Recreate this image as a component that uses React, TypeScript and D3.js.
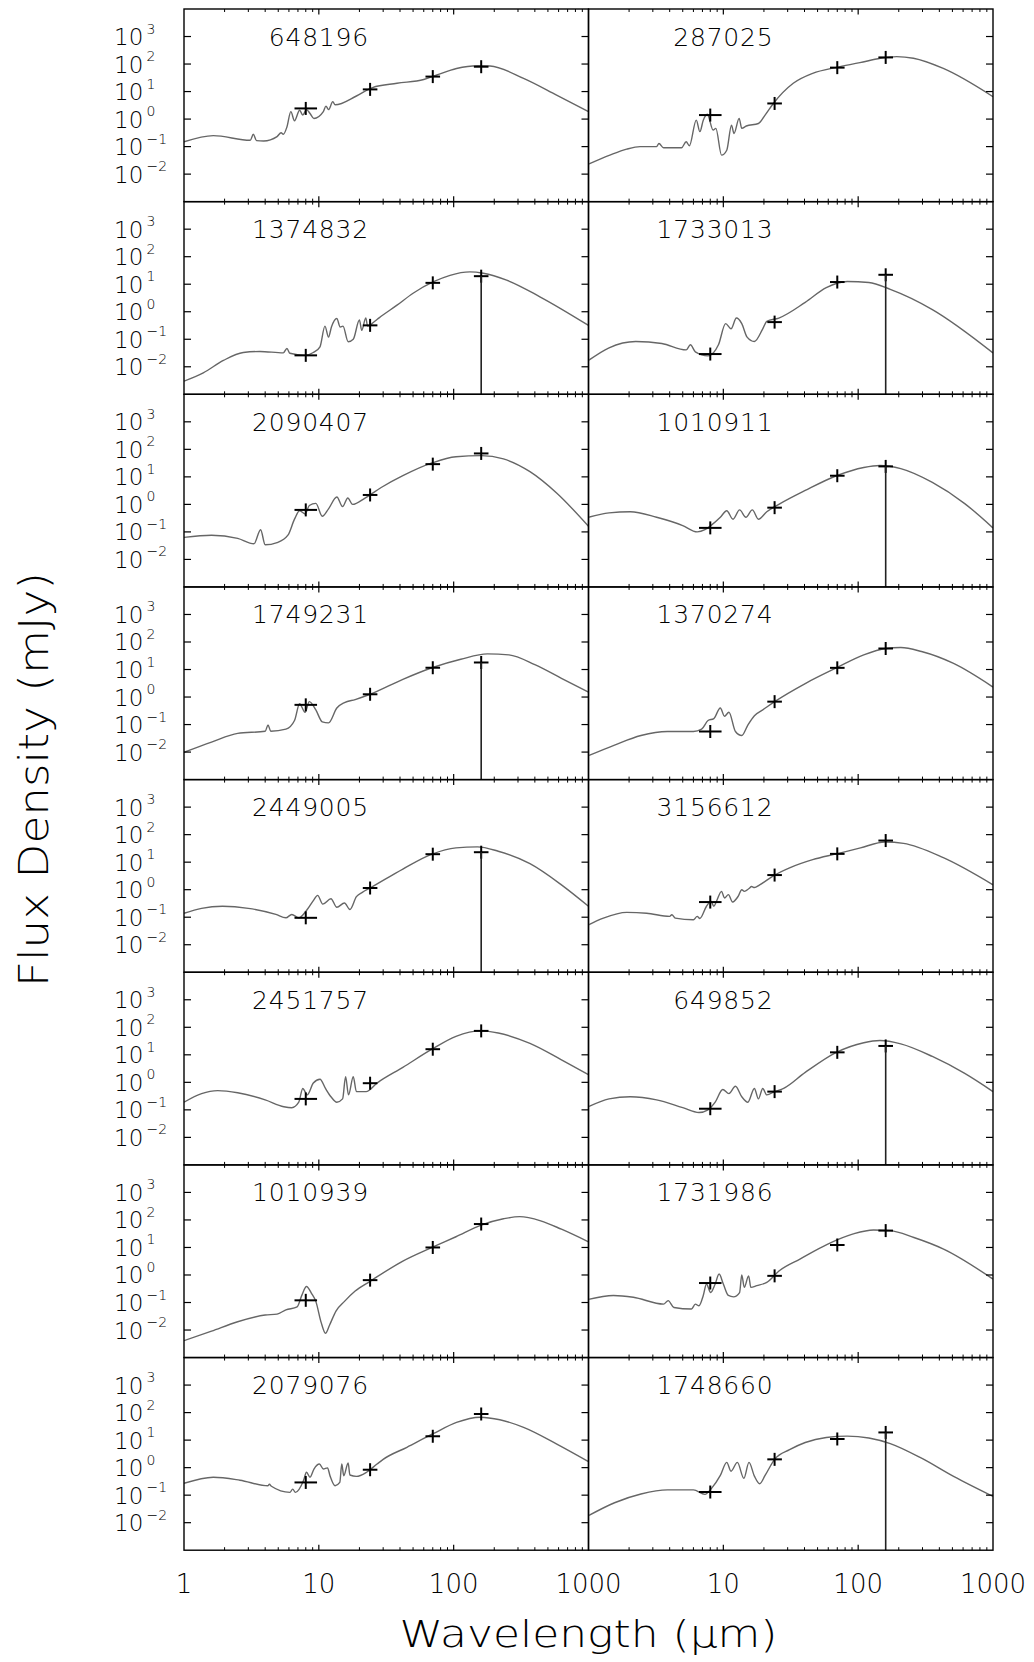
import React from "react";
import * as d3 from "d3";

// Source identifiers, row by row (left column, right column)
const sourceIds = [
  "648196", "287025",
  "1374832", "1733013",
  "2090407", "1010911",
  "1749231", "1370274",
  "2449005", "3156612",
  "2451757", "649852",
  "1010939", "1731986",
  "2079076", "1748660",
];

// Photometric bands (micron) and measured flux densities (mJy)
const bandWavelengths = [8, 24, 70, 160];
const bandFluxes: number[][] = [
  [2.44, 12, 35, 80],
  [1.4, 3.7, 74, 174],
  [0.026, 0.32, 11.2, 19.6],
  [0.029, 0.42, 12, 22],
  [0.63, 2.2, 29, 71],
  [0.14, 0.76, 11, 24],
  [0.52, 1.26, 11.6, 18],
  [0.056, 0.68, 11.5, 58],
  [0.095, 1.15, 19.5, 23],
  [0.355, 3.4, 20, 61],
  [0.25, 0.93, 16, 74],
  [0.11, 0.46, 12.3, 21],
  [0.12, 0.65, 10, 71],
  [0.51, 0.93, 12.3, 41],
  [0.29, 0.84, 13.8, 89],
  [0.13, 2.0, 11, 19],
];

// 160 micron points whose error bar runs down to the bottom of the panel
const open160Bar = [
  false, false, true, true, false, true, true, false,
  true, false, false, true, false, false, false, true,
];

// Horizontal extent of the 8 micron band (micron)
const irac8Span: [number, number] = [6.6, 9.7];

// Axis ticks
const yExponents = [3, 2, 1, 0, -1, -2];
const xLabelsLeft = [1, 10, 100, 1000];
const xLabelsRight = [10, 100, 1000];

// Best-fit model SEDs: [wavelength (micron), flux density (mJy)]
const sed_648196: [number, number][] = [
  [1, 0.15], [1.65, 0.25], [3.1, 0.17], [3.27, 0.28], [3.45, 0.165], [3.9, 0.16],
  [4.9, 0.23], [5.25, 0.32], [5.45, 0.28], [5.8, 0.52], [6.2, 1.86], [6.6, 0.87],
  [7.2, 2.1], [7.6, 1.4], [8.1, 2.2], [8.6, 1.6], [9.2, 1.05], [10.8, 1.86],
  [11.3, 2.95], [11.8, 2.2], [12.7, 4.3], [13.2, 3.3], [19, 6.9], [25, 14],
  [38, 20], [60, 27.5], [75, 40], [105, 69], [150, 87], [186, 85], [330, 30],
  [580, 7.4], [1000, 1.86],
];
const sed_287025: [number, number][] = [
  [1, 0.023], [1.44, 0.049], [1.92, 0.081], [2.41, 0.1], [3.2, 0.1], [3.33, 0.13],
  [3.6, 0.091], [4.9, 0.091], [5.3, 0.15], [5.6, 0.107], [6.3, 0.92], [6.7, 0.35],
  [7.1, 0.91], [7.6, 1.5], [8.4, 0.4], [8.8, 0.46], [9.7, 0.049], [10.6, 0.074],
  [11.5, 0.6], [12.0, 0.3], [13.1, 1.06], [13.7, 0.46], [14.8, 0.56], [18.2, 0.69],
  [20.4, 1.4], [23.5, 3.7], [33, 20], [46, 46], [69, 76], [103, 112], [146, 162],
  [193, 186], [257, 162], [428, 69], [1000, 6.5],
];
const sed_1374832: [number, number][] = [
  [1, 0.003], [1.39, 0.006], [1.96, 0.017], [2.75, 0.033], [3.66, 0.036],
  [5.45, 0.032], [5.8, 0.046], [6.1, 0.031], [7.9, 0.026], [9.1, 0.033],
  [10.2, 0.053], [11.1, 0.3], [11.8, 0.12], [12.4, 0.28], [13.6, 0.57], [14.4, 0.28],
  [15.1, 0.3], [16.5, 0.081], [18, 0.1], [20, 0.5], [20.8, 0.21], [22.3, 0.6],
  [23, 0.3], [26, 0.45], [28, 0.6], [38, 1.73], [50, 4.7], [71, 12.3], [94, 21],
  [132, 28], [166, 25], [247, 14], [436, 3.5], [1000, 0.32],
];
const sed_1733013: [number, number][] = [
  [1, 0.017], [1.42, 0.049], [2.24, 0.083], [3.5, 0.07], [5.3, 0.041], [5.7, 0.063],
  [6.2, 0.035], [7.7, 0.025], [9.2, 0.063], [10.4, 0.37], [11.4, 0.24], [12.5, 0.59],
  [13.7, 0.37], [15, 0.12], [17, 0.083], [19.6, 0.24], [21, 0.45], [25.8, 0.59],
  [40.5, 2.2], [58, 7.5], [83, 12.5], [120, 11.5], [173, 6.5], [355, 1.2], [1000, 0.032],
];
const sed_2090407: [number, number][] = [
  [1, 0.063], [1.6, 0.076], [2.5, 0.058], [3.3, 0.037], [3.7, 0.12], [4.0, 0.034],
  [4.9, 0.041], [5.9, 0.076], [6.6, 0.29], [7.2, 0.59], [7.9, 0.45], [8.5, 0.91],
  [9.5, 1.09], [10.6, 0.37], [11.8, 0.69], [13.6, 1.85], [15, 0.83], [16.4, 1.7],
  [17.8, 1.0], [22, 1.7], [29, 4.1], [42, 11], [69, 32], [104, 54], [160, 59],
  [234, 45], [368, 15.5], [580, 2.6], [1000, 0.16],
];
const sed_1010911: [number, number][] = [
  [1, 0.34], [1.42, 0.49], [2.04, 0.54], [3.2, 0.34], [5, 0.17], [6.4, 0.1],
  [7.3, 0.12], [8.2, 0.18], [9.5, 0.34], [10.6, 0.59], [11.8, 0.29], [13.2, 0.63],
  [14.7, 0.34], [16.4, 0.63], [18.2, 0.29], [21, 0.54], [25.8, 1.0], [40.5, 3.2],
  [69, 11], [110, 22], [145, 26], [207, 20], [355, 6.3], [617, 1.07], [1000, 0.14],
];
const sed_1749231: [number, number][] = [
  [1, 0.0098], [1.6, 0.023], [2.5, 0.048], [4, 0.057], [4.2, 0.096], [4.4, 0.057],
  [5.7, 0.068], [6.6, 0.14], [7.2, 0.57], [7.9, 0.28], [8.5, 0.68], [9.5, 0.34],
  [10.6, 0.126], [11.8, 0.115], [13.6, 0.4], [15.5, 0.63], [18.6, 0.81], [24, 1.26],
  [42, 4.4], [69, 11.6], [113, 23.6], [178, 37], [257, 34], [400, 15], [630, 4.8],
  [1000, 1.5],
];
const sed_1370274: [number, number][] = [
  [1, 0.0074], [1.56, 0.018], [2.45, 0.04], [3.85, 0.056], [6.0, 0.056], [6.9, 0.068],
  [7.7, 0.14], [8.5, 0.165], [9.5, 0.4], [10.2, 0.2], [11, 0.28], [12.3, 0.056],
  [13.7, 0.04], [15.2, 0.096], [17, 0.21], [19.6, 0.34], [24, 0.68], [40.5, 3.1],
  [69, 11.5], [110, 34], [160, 58], [207, 63], [295, 45], [510, 16.6], [1000, 2.3],
];
const sed_2449005: [number, number][] = [
  [1, 0.138], [1.35, 0.21], [1.93, 0.25], [3.0, 0.21], [4.8, 0.126], [5.7, 0.095],
  [6.3, 0.126], [7.1, 0.095], [8.2, 0.19], [9.1, 0.4], [9.8, 0.62], [10.7, 0.3],
  [12.3, 0.47], [13.6, 0.23], [15.5, 0.33], [17, 0.19], [19, 0.56], [21, 0.8],
  [24, 1.15], [42, 5.6], [69, 19.5], [104, 33], [150, 36], [214, 25], [368, 8.8],
  [630, 1.5], [1000, 0.25],
];
const sed_3156612: [number, number][] = [
  [1, 0.053], [1.29, 0.093], [1.92, 0.15], [2.7, 0.14], [4.0, 0.107], [4.15, 0.123],
  [4.4, 0.093], [6.0, 0.081], [6.4, 0.107], [6.7, 0.09], [7.5, 0.25], [8.1, 0.38],
  [8.5, 0.25], [8.9, 0.38], [9.7, 0.87], [10.2, 0.5], [10.9, 0.66], [11.7, 0.355],
  [12.9, 0.58], [13.7, 1.0], [14.3, 0.87], [15.5, 1.1], [16.2, 1.3], [17, 1.2],
  [18.6, 1.5], [23.5, 3.2], [31, 6.2], [46, 12.3], [69, 20], [104, 33], [158, 54],
  [217, 48], [428, 14.5], [1000, 1.5],
];
const sed_2451757: [number, number][] = [
  [1, 0.19], [1.35, 0.39], [1.78, 0.5], [2.5, 0.42], [4, 0.23], [5.5, 0.13],
  [6.3, 0.12], [7.1, 0.19], [7.6, 0.6], [8.2, 0.35], [9.1, 0.94], [10.2, 1.3],
  [11.2, 0.6], [12.3, 0.3], [13.6, 0.19], [15, 0.25], [15.8, 1.6], [16.6, 0.35],
  [18, 1.6], [19, 0.46], [22.4, 0.46], [27, 0.94], [42, 3.5], [69, 16], [104, 47],
  [160, 74], [214, 62], [368, 26], [630, 6.6], [1000, 1.9],
];
const sed_649852: [number, number][] = [
  [1, 0.13], [1.42, 0.25], [2.04, 0.3], [3.2, 0.23], [5, 0.12], [6.6, 0.08],
  [7.7, 0.1], [8.7, 0.19], [9.9, 0.55], [11, 0.39], [12.3, 0.72], [13.7, 0.3],
  [15.2, 0.19], [17, 0.6], [18.2, 0.25], [19.6, 0.6], [21, 0.35], [24, 0.46],
  [28, 0.6], [40.5, 2.3], [69, 12.3], [110, 27.5], [145, 33], [207, 25], [355, 8.7],
  [617, 2.1], [1000, 0.46],
];
const sed_1010939: [number, number][] = [
  [1, 0.0041], [1.6, 0.0091], [2.5, 0.02], [4, 0.035], [4.9, 0.038], [5.7, 0.054],
  [6.9, 0.069], [7.5, 0.19], [8.1, 0.38], [8.8, 0.22], [9.5, 0.11], [10.4, 0.019],
  [11.2, 0.0076], [12, 0.015], [13.4, 0.049], [15.5, 0.11], [18.6, 0.26], [24, 0.59],
  [42, 3.2], [69, 10], [104, 24.5], [160, 65], [234, 110], [309, 132], [442, 93],
  [630, 46], [1000, 16],
];
const sed_1731986: [number, number][] = [
  [1, 0.13], [1.53, 0.18], [2.15, 0.155], [3.6, 0.087], [3.9, 0.117], [4.3, 0.066],
  [5.8, 0.058], [6.2, 0.087], [6.6, 0.076], [7.1, 0.18], [7.5, 0.47], [8.05, 0.23],
  [8.7, 0.47], [9.3, 1.08], [10, 0.47], [10.9, 0.18], [11.9, 0.16], [13.2, 0.23],
  [13.7, 1.0], [14.3, 0.355], [15.4, 0.93], [16, 0.355], [17.7, 0.41], [21, 0.54],
  [26, 1.43], [37, 3.8], [59, 13], [92, 31], [130, 43], [173, 41], [259, 23],
  [430, 8.7], [1000, 0.71],
];
const sed_2079076: [number, number][] = [
  [1, 0.27], [1.65, 0.45], [2.6, 0.35], [4.2, 0.22], [4.3, 0.25], [4.45, 0.21],
  [6.1, 0.126], [6.4, 0.166], [6.7, 0.126], [7.7, 0.34], [8.1, 0.68], [8.6, 0.45],
  [9.2, 0.89], [10.1, 1.35], [10.8, 0.89], [11.6, 0.98], [12.1, 0.51], [13.2, 0.22],
  [14.3, 0.29], [14.8, 1.35], [15.3, 0.51], [16.5, 1.48], [17, 0.54], [19, 0.48],
  [22.6, 0.68], [27, 1.35], [30, 2.0], [45, 5.5], [71, 17.4], [105, 44], [157, 68],
  [220, 55], [330, 29], [582, 7.2], [1000, 1.66],
];
const sed_1748660: [number, number][] = [
  [1, 0.018], [1.56, 0.053], [2.45, 0.11], [3.85, 0.155], [6.0, 0.155], [7.3, 0.107],
  [8.2, 0.18], [9.5, 0.52], [10.6, 1.55], [11.4, 0.74], [12.7, 1.55], [14.2, 0.41],
  [15.5, 1.55], [17, 0.49], [18.6, 0.26], [20.4, 0.52], [24, 2.0], [31, 4.5],
  [40.5, 8.2], [58, 12.5], [83, 14], [120, 12], [173, 7.5], [295, 2.2], [510, 0.48],
  [1000, 0.09],
];

const models = [
  sed_648196, sed_287025, sed_1374832, sed_1733013, sed_2090407, sed_1010911,
  sed_1749231, sed_1370274, sed_2449005, sed_3156612, sed_2451757, sed_649852,
  sed_1010939, sed_1731986, sed_2079076, sed_1748660,
];

const FONT = "'DejaVu Sans', 'Liberation Sans', sans-serif";

// Frame geometry
const colLeft = [184, 588.5];
const colWidth = 404.5;
const plotTop = 9;
const rowHeight = 192.65;
const nRows = 8;

export default function App() {
  const width = 1034;
  const height = 1662;
  const bottom = plotTop + nRows * rowHeight;

  const minorX: number[] = [];
  [1, 10, 100].forEach((d) => {
    for (let k = 2; k <= 9; k++) minorX.push(k * d);
  });
  const majorX = [10, 100];

  const panels = sourceIds.map((id, i) => {
    const row = Math.floor(i / 2);
    const col = i % 2;
    const x0 = colLeft[col];
    const y0 = plotTop + row * rowHeight;
    const x = d3.scaleLog().domain([1, 1000]).range([x0, x0 + colWidth]);
    const y = d3.scaleLog().domain([1e-3, 1e4]).range([y0 + rowHeight, y0]);
    const line = d3
      .line<[number, number]>()
      .x((d) => x(d[0]))
      .y((d) => y(d[1]))
      .curve(d3.curveMonotoneX);
    const pathD = line(models[i]) || "";

    return (
      <g key={id}>
        <clipPath id={`clip-${i}`}>
          <rect x={x0} y={y0} width={colWidth} height={rowHeight} />
        </clipPath>
        <path
          d={pathD}
          fill="none"
          stroke="#666"
          strokeWidth={1.4}
          clipPath={`url(#clip-${i})`}
        />
        {/* photometry */}
        {bandWavelengths.map((w, j) => {
          const px = x(w);
          const py = y(bandFluxes[i][j]);
          const armX = 7.3;
          const armY = 6.5;
          const xl = j === 0 ? x(irac8Span[0]) : px - armX;
          const xr = j === 0 ? x(irac8Span[1]) : px + armX;
          return (
            <g key={j} stroke="#000">
              <line x1={xl} x2={xr} y1={py} y2={py} strokeWidth={2} />
              <line x1={px} x2={px} y1={py - armY} y2={py + armY} strokeWidth={2} />
              {j === 3 && open160Bar[i] ? (
                <line x1={px} x2={px} y1={py} y2={y0 + rowHeight} strokeWidth={1.6} stroke="#222" />
              ) : null}
            </g>
          );
        })}
        {/* frame */}
        <rect
          x={x0}
          y={y0}
          width={colWidth}
          height={rowHeight}
          fill="none"
          stroke="#000"
          strokeWidth={1.4}
        />
        {/* x ticks, top and bottom */}
        {minorX.map((v) => (
          <g key={`m${v}`} stroke="#000" strokeWidth={1}>
            <line x1={x(v)} x2={x(v)} y1={y0} y2={y0 + 3} />
            <line x1={x(v)} x2={x(v)} y1={y0 + rowHeight} y2={y0 + rowHeight - 3} />
          </g>
        ))}
        {majorX.map((v) => (
          <g key={`M${v}`} stroke="#000" strokeWidth={1.2}>
            <line x1={x(v)} x2={x(v)} y1={y0} y2={y0 + 5.5} />
            <line x1={x(v)} x2={x(v)} y1={y0 + rowHeight} y2={y0 + rowHeight - 5.5} />
          </g>
        ))}
        {/* y ticks */}
        {yExponents.map((e) => {
          const ty = y(Math.pow(10, e));
          return (
            <g key={`y${e}`} stroke="#000" strokeWidth={1.2}>
              {col === 0 ? <line x1={x0} x2={x0 + 7} y1={ty} y2={ty} /> : null}
              <line x1={x0 + colWidth - 7} x2={x0 + colWidth} y1={ty} y2={ty} />
            </g>
          );
        })}
        {/* y tick labels on the left column */}
        {col === 0
          ? yExponents.map((e) => {
              const ty = y(Math.pow(10, e));
              return (
                <g key={`yl${e}`} fill="#000" fontFamily={FONT} fontWeight={200}>
                  <text x={114} y={ty + 8.5} fontSize={23}>
                    10
                  </text>
                  <text x={146.5} y={ty - 3} fontSize={14}>
                    {e < 0 ? `\u2212${-e}` : `${e}`}
                  </text>
                </g>
              );
            })
          : null}
        {/* source label */}
        <text
          x={x0 + 185}
          y={y0 + 36.5}
          fontSize={25}
          fontFamily={FONT}
          fontWeight={200}
          textAnchor="end"
          letterSpacing={0.8}
          fill="#000"
        >
          {id}
        </text>
      </g>
    );
  });

  const xBottomLeft = d3.scaleLog().domain([1, 1000]).range([colLeft[0], colLeft[0] + colWidth]);
  const xBottomRight = d3.scaleLog().domain([1, 1000]).range([colLeft[1], colLeft[1] + colWidth]);

  return (
    <svg
      width={width}
      height={height}
      viewBox={`0 0 ${width} ${height}`}
      style={{ position: "absolute", left: 0, top: 0, background: "#fff" }}
    >
      <rect x={0} y={0} width={width} height={height} fill="#fff" />
      {panels}
      {xLabelsLeft.map((v) => (
        <text
          key={`bl${v}`}
          x={xBottomLeft(v)}
          y={1593}
          fontSize={26}
          fontFamily={FONT}
          fontWeight={200}
          textAnchor="middle"
          fill="#000"
        >
          {v}
        </text>
      ))}
      {xLabelsRight.map((v) => (
        <text
          key={`br${v}`}
          x={xBottomRight(v)}
          y={1593}
          fontSize={26}
          fontFamily={FONT}
          fontWeight={200}
          textAnchor="middle"
          fill="#000"
        >
          {v}
        </text>
      ))}
      <text
        x={588.5}
        y={1647}
        fontSize={38}
        fontFamily={FONT}
        fontWeight={200}
        textAnchor="middle"
        textLength={378}
        lengthAdjust="spacingAndGlyphs"
        fill="#000"
      >
        Wavelength (μm)
      </text>
      <text
        transform={`translate(48,${(plotTop + bottom) / 2}) rotate(-90)`}
        fontSize={40}
        fontFamily={FONT}
        fontWeight={200}
        textAnchor="middle"
        textLength={415}
        lengthAdjust="spacingAndGlyphs"
        fill="#000"
      >
        Flux Density (mJy)
      </text>
    </svg>
  );
}
